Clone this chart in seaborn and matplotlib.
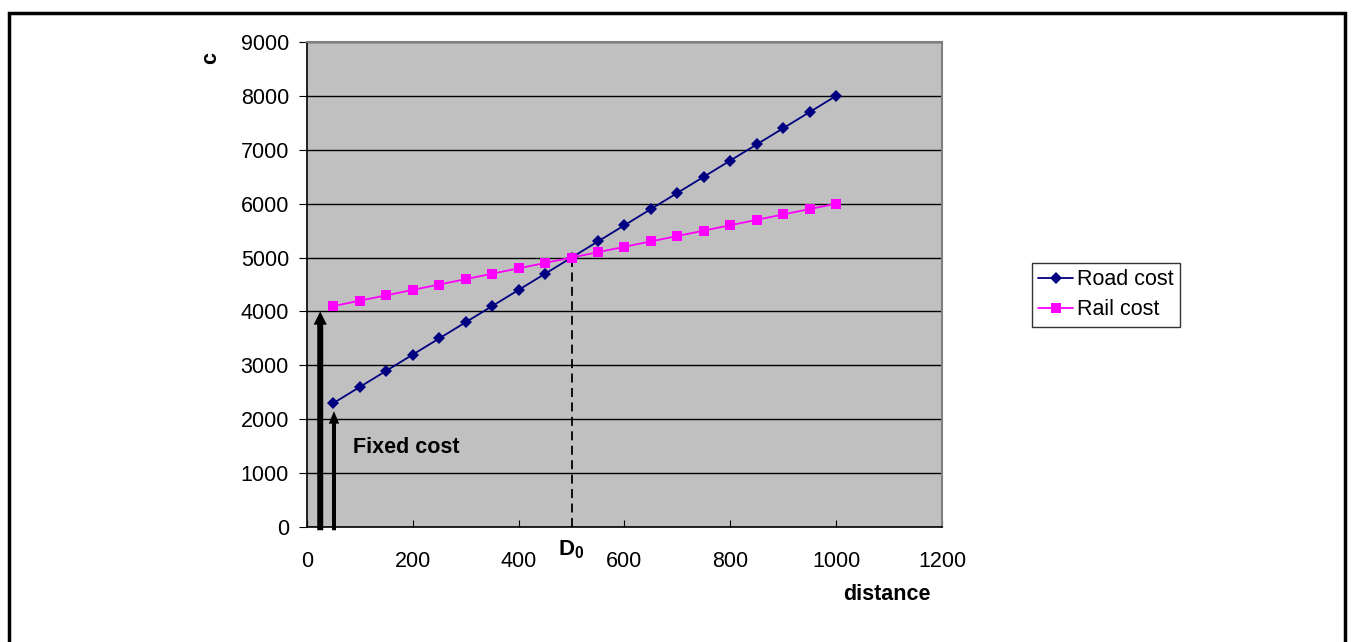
import matplotlib
matplotlib.use("Agg")
import matplotlib.pyplot as plt
import pandas as pd
import seaborn as sns
from matplotlib.patches import Rectangle

distance = [50, 100, 150, 200, 250, 300, 350, 400, 450, 500,
            550, 600, 650, 700, 750, 800, 850, 900, 950, 1000]
road_cost = [2300, 2600, 2900, 3200, 3500, 3800, 4100, 4400, 4700, 5000,
             5300, 5600, 5900, 6200, 6500, 6800, 7100, 7400, 7700, 8000]
rail_cost = [4100, 4200, 4300, 4400, 4500, 4600, 4700, 4800, 4900, 5000,
             5100, 5200, 5300, 5400, 5500, 5600, 5700, 5800, 5900, 6000]
x_ticks = [0, 200, 400, 600, 800, 1000, 1200]
y_ticks = [0, 1000, 2000, 3000, 4000, 5000, 6000, 7000, 8000, 9000]
break_even = (500, 5000)
rail_fixed = (25, 4000)
road_fixed = (51, 2150)

sns.set_style("white")
plt.rcParams["font.family"] = ["Liberation Sans", "DejaVu Sans"]
plt.rcParams["text.color"] = "black"
plt.rcParams["xtick.color"] = "black"
plt.rcParams["ytick.color"] = "black"
plt.rcParams["mathtext.fontset"] = "custom"
plt.rcParams["mathtext.rm"] = "Liberation Sans"
plt.rcParams["mathtext.bf"] = "Liberation Sans:bold"

df = pd.DataFrame({"distance": distance * 2,
                   "cost": road_cost + rail_cost,
                   "series": ["Road cost"] * len(distance) + ["Rail cost"] * len(distance)})

fig = plt.figure(figsize=(13.53, 6.42), dpi=100)
ax = fig.add_axes([0.2269, 0.1791, 0.4693, 0.7555])
ax.set_facecolor("#C0C0C0")

sns.lineplot(data=df, x="distance", y="cost", hue="series", style="series",
             palette={"Road cost": "#000080", "Rail cost": "#FF00FF"},
             markers={"Road cost": "D", "Rail cost": "s"}, dashes=False,
             markersize=6.5, linewidth=1.3, markeredgewidth=0, ax=ax, zorder=3)

ax.set_xlim(0, 1200)
ax.set_ylim(0, 9000)
ax.set_xticks(x_ticks)
ax.set_yticks(y_ticks)
ax.tick_params(axis="x", direction="in", length=5, labelsize=15.5, pad=17, bottom=True)
ax.tick_params(axis="y", direction="out", length=6, labelsize=15.5, pad=7, left=True)
ax.yaxis.grid(True, color="black", linewidth=1)
ax.set_axisbelow(True)
for side in ["top", "right"]:
    ax.spines[side].set_color("#808080")
    ax.spines[side].set_linewidth(1.5)
for side in ["left", "bottom"]:
    ax.spines[side].set_color("black")
    ax.spines[side].set_linewidth(1.2)

ax.set_xlabel("")
ax.set_ylabel("")
fig.text(887 / 1353, 1 - 595 / 642, "distance", fontsize=15.5, fontweight="bold",
         ha="center", va="center")
fig.text(211 / 1353, 1 - 58 / 642, "c", fontsize=15.5, fontweight="bold",
         ha="center", va="center", rotation=90)

# break-even line
ax.plot([break_even[0], break_even[0]], [0, break_even[1]], color="black",
        linestyle=(0, (5, 3)), linewidth=1.3, zorder=2)
ax.text(break_even[0], -220, r"$\mathbf{D_0}$", fontsize=16, ha="center", va="top")

# fixed cost arrows
ax.annotate("", xy=rail_fixed, xytext=(rail_fixed[0], -60),
            arrowprops=dict(facecolor="black", edgecolor="none", width=4.3,
                            headwidth=9.5, headlength=9.5, shrink=0),
            annotation_clip=False, zorder=4)
ax.annotate("", xy=road_fixed, xytext=(road_fixed[0], -60),
            arrowprops=dict(facecolor="black", edgecolor="none", width=2.9,
                            headwidth=7.5, headlength=9, shrink=0),
            annotation_clip=False, zorder=4)
ax.text(87, 1480, "Fixed cost", fontsize=15.5, fontweight="bold", ha="left", va="center")

leg = ax.legend(loc="upper left", bbox_to_anchor=(1032 / 1353, 1 - 263 / 642),
                bbox_transform=fig.transFigure, frameon=True, fontsize=15.5,
                fancybox=False, borderpad=0.3, handlelength=1.6, handletextpad=0.2,
                labelspacing=0.4, borderaxespad=0)
leg.get_frame().set_edgecolor("black")
leg.get_frame().set_linewidth(1)

fig.patches.append(Rectangle((9 / 1353, -0.05), 1336 / 1353, 1 - 13 / 642 + 0.05,
                             transform=fig.transFigure, fill=False,
                             edgecolor="black", linewidth=2.5))

fig.savefig("out.png", dpi=100)
